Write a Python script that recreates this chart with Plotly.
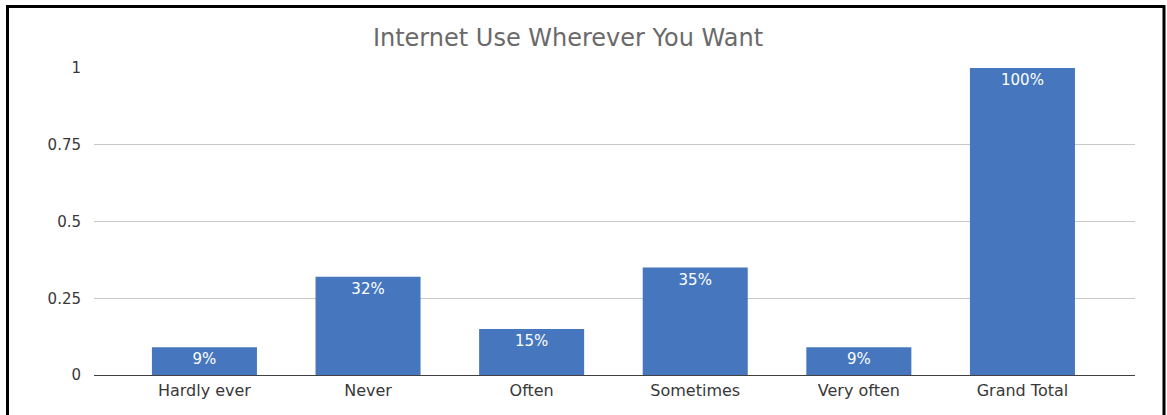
import plotly.graph_objects as go

categories = ["Hardly ever", "Never", "Often", "Sometimes", "Very often", "Grand Total"]
values = [0.09, 0.32, 0.15, 0.35, 0.09, 1.0]
tick_vals = [0, 0.25, 0.5, 0.75, 1]
tick_text = ["0", "0.25", "0.5", "0.75", "1"]

W, H = 1167, 415
L, R, T, B = 94, 1167 - 1135, 68, 40
pw, ph = W - L - R, H - T - B

def px(x):
    return (x - L) / pw

def py(y):
    return (H - B - y) / ph

FONT = "DejaVu Sans"

fig = go.Figure(go.Bar(
    x=categories, y=values, width=0.642,
    marker=dict(color="#4677be", line=dict(width=0)),
    texttemplate="%{y:.0%}", textposition="inside", insidetextanchor="end",
    textfont=dict(color="white", size=15, family=FONT),
    textangle=0, cliponaxis=False,
))

fig.update_layout(
    width=W, height=H,
    margin=dict(l=L, r=R, t=T, b=B),
    paper_bgcolor="white", plot_bgcolor="white",
    font=dict(family=FONT, color="#404040", size=14),
    title=dict(text="Internet Use Wherever You Want", x=568 / W, xanchor="center",
               y=1 - 38 / H, yanchor="middle",
               font=dict(size=24, color="#6a6a6a", family=FONT)),
    showlegend=False,
    xaxis=dict(range=[-0.675, 5.688], showgrid=False, showline=True,
               linecolor="#404040", linewidth=1, ticks="", ticklabelstandoff=1,
               tickfont=dict(size=16, color="#383838")),
    yaxis=dict(range=[0, 1], tickvals=tick_vals, ticktext=tick_text, showgrid=True,
               gridcolor="#c8c8c8", gridwidth=1, zeroline=False, showline=False,
               ticks="", ticklabelstandoff=12, tickfont=dict(size=15, color="#383838")),
    shapes=[dict(type="rect", xref="paper", yref="paper",
                 x0=px(7.5), x1=px(1164), y0=py(6.5), y1=py(430),
                 line=dict(color="black", width=3), fillcolor="rgba(0,0,0,0)", layer="above")],
)

fig.write_html("out.html", config={"displayModeBar": False},
               post_script="document.body.style.margin='0';document.body.style.overflow='hidden';")
